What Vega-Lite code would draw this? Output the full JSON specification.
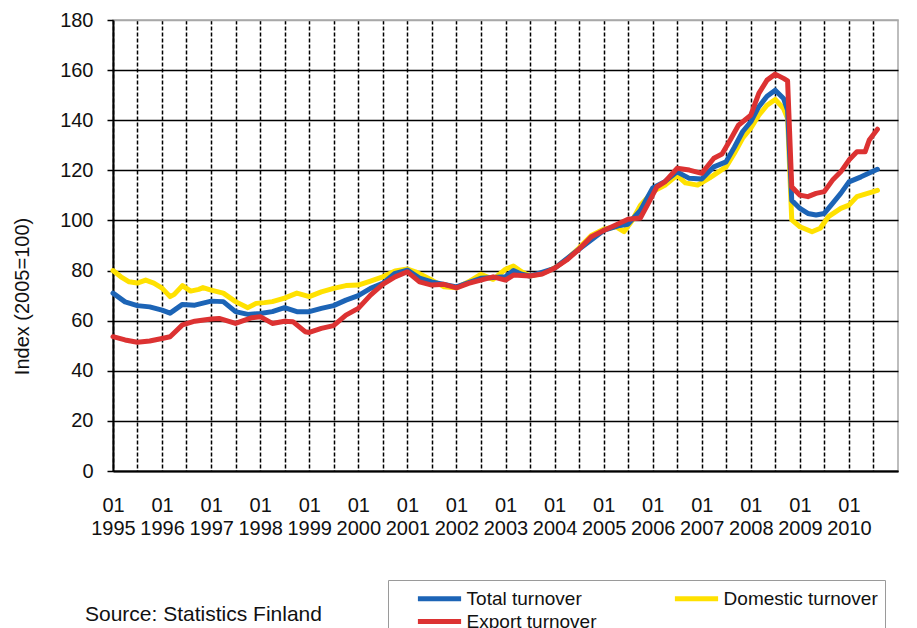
{
  "$schema": "https://vega.github.io/schema/vega-lite/v6.json",
  "width": 785,
  "height": 451,
  "autosize": "none",
  "padding": {"left": 113, "top": 20, "right": 19, "bottom": 157},
  "background": "white",
  "title": {"text": "Source: Statistics Finland", "orient": "bottom", "anchor": "start", "fontSize": 21, "fontWeight": "normal", "font": "Liberation Sans", "color": "#111", "baseline": "middle", "dx": 73, "dy": -25, "offset": 0},
  "datasets": {
    "d": [
      {"s": "Domestic turnover", "d": "1995-01", "v": 80},
      {"s": "Domestic turnover", "d": "1995-03", "v": 77.5},
      {"s": "Domestic turnover", "d": "1995-05", "v": 75.5},
      {"s": "Domestic turnover", "d": "1995-07", "v": 75},
      {"s": "Domestic turnover", "d": "1995-09", "v": 76.2},
      {"s": "Domestic turnover", "d": "1995-11", "v": 75},
      {"s": "Domestic turnover", "d": "1996-01", "v": 73},
      {"s": "Domestic turnover", "d": "1996-03", "v": 69.6},
      {"s": "Domestic turnover", "d": "1996-04", "v": 70.5},
      {"s": "Domestic turnover", "d": "1996-06", "v": 74},
      {"s": "Domestic turnover", "d": "1996-08", "v": 71.8},
      {"s": "Domestic turnover", "d": "1996-10", "v": 72.5},
      {"s": "Domestic turnover", "d": "1996-11", "v": 73.2},
      {"s": "Domestic turnover", "d": "1997-01", "v": 72.2},
      {"s": "Domestic turnover", "d": "1997-04", "v": 71},
      {"s": "Domestic turnover", "d": "1997-07", "v": 67.6},
      {"s": "Domestic turnover", "d": "1997-10", "v": 65.2},
      {"s": "Domestic turnover", "d": "1997-12", "v": 66.9},
      {"s": "Domestic turnover", "d": "1998-02", "v": 67.2},
      {"s": "Domestic turnover", "d": "1998-04", "v": 67.6},
      {"s": "Domestic turnover", "d": "1998-07", "v": 69},
      {"s": "Domestic turnover", "d": "1998-10", "v": 71},
      {"s": "Domestic turnover", "d": "1999-01", "v": 69.6},
      {"s": "Domestic turnover", "d": "1999-04", "v": 71.5},
      {"s": "Domestic turnover", "d": "1999-07", "v": 72.9},
      {"s": "Domestic turnover", "d": "1999-10", "v": 74},
      {"s": "Domestic turnover", "d": "2000-01", "v": 74.2},
      {"s": "Domestic turnover", "d": "2000-04", "v": 75.8},
      {"s": "Domestic turnover", "d": "2000-07", "v": 77.5},
      {"s": "Domestic turnover", "d": "2000-10", "v": 79.8},
      {"s": "Domestic turnover", "d": "2001-01", "v": 80.6},
      {"s": "Domestic turnover", "d": "2001-03", "v": 79.5},
      {"s": "Domestic turnover", "d": "2001-07", "v": 76.2},
      {"s": "Domestic turnover", "d": "2001-10", "v": 73.5},
      {"s": "Domestic turnover", "d": "2002-01", "v": 73.1},
      {"s": "Domestic turnover", "d": "2002-04", "v": 75.5},
      {"s": "Domestic turnover", "d": "2002-07", "v": 78.5},
      {"s": "Domestic turnover", "d": "2002-10", "v": 76.5},
      {"s": "Domestic turnover", "d": "2003-01", "v": 80.5},
      {"s": "Domestic turnover", "d": "2003-03", "v": 81.8},
      {"s": "Domestic turnover", "d": "2003-05", "v": 79.5},
      {"s": "Domestic turnover", "d": "2003-07", "v": 77.8},
      {"s": "Domestic turnover", "d": "2003-10", "v": 78.8},
      {"s": "Domestic turnover", "d": "2004-01", "v": 81},
      {"s": "Domestic turnover", "d": "2004-04", "v": 84.5},
      {"s": "Domestic turnover", "d": "2004-07", "v": 89},
      {"s": "Domestic turnover", "d": "2004-10", "v": 94},
      {"s": "Domestic turnover", "d": "2005-01", "v": 96.5},
      {"s": "Domestic turnover", "d": "2005-04", "v": 97.5},
      {"s": "Domestic turnover", "d": "2005-06", "v": 95.5},
      {"s": "Domestic turnover", "d": "2005-08", "v": 100},
      {"s": "Domestic turnover", "d": "2005-10", "v": 106},
      {"s": "Domestic turnover", "d": "2006-01", "v": 111.5},
      {"s": "Domestic turnover", "d": "2006-04", "v": 114},
      {"s": "Domestic turnover", "d": "2006-07", "v": 118},
      {"s": "Domestic turnover", "d": "2006-09", "v": 115},
      {"s": "Domestic turnover", "d": "2006-12", "v": 114.1},
      {"s": "Domestic turnover", "d": "2007-03", "v": 117},
      {"s": "Domestic turnover", "d": "2007-07", "v": 121.4},
      {"s": "Domestic turnover", "d": "2007-09", "v": 126.8},
      {"s": "Domestic turnover", "d": "2007-11", "v": 132.8},
      {"s": "Domestic turnover", "d": "2008-01", "v": 136.8},
      {"s": "Domestic turnover", "d": "2008-03", "v": 142},
      {"s": "Domestic turnover", "d": "2008-05", "v": 146},
      {"s": "Domestic turnover", "d": "2008-07", "v": 148.3},
      {"s": "Domestic turnover", "d": "2008-09", "v": 144.7},
      {"s": "Domestic turnover", "d": "2008-10", "v": 140.7},
      {"s": "Domestic turnover", "d": "2008-11", "v": 100.2},
      {"s": "Domestic turnover", "d": "2009-01", "v": 97.5},
      {"s": "Domestic turnover", "d": "2009-04", "v": 95.5},
      {"s": "Domestic turnover", "d": "2009-06", "v": 96.9},
      {"s": "Domestic turnover", "d": "2009-08", "v": 101.5},
      {"s": "Domestic turnover", "d": "2009-11", "v": 104.8},
      {"s": "Domestic turnover", "d": "2010-01", "v": 106.1},
      {"s": "Domestic turnover", "d": "2010-03", "v": 109.5},
      {"s": "Domestic turnover", "d": "2010-08", "v": 112},

      {"s": "Total turnover", "d": "1995-01", "v": 71},
      {"s": "Total turnover", "d": "1995-04", "v": 67.5},
      {"s": "Total turnover", "d": "1995-07", "v": 66},
      {"s": "Total turnover", "d": "1995-10", "v": 65.5},
      {"s": "Total turnover", "d": "1996-01", "v": 64.2},
      {"s": "Total turnover", "d": "1996-03", "v": 63},
      {"s": "Total turnover", "d": "1996-06", "v": 66.5},
      {"s": "Total turnover", "d": "1996-09", "v": 66.2},
      {"s": "Total turnover", "d": "1997-01", "v": 67.8},
      {"s": "Total turnover", "d": "1997-04", "v": 67.6},
      {"s": "Total turnover", "d": "1997-07", "v": 63.6},
      {"s": "Total turnover", "d": "1997-10", "v": 62.5},
      {"s": "Total turnover", "d": "1998-01", "v": 62.9},
      {"s": "Total turnover", "d": "1998-04", "v": 63.6},
      {"s": "Total turnover", "d": "1998-07", "v": 65.2},
      {"s": "Total turnover", "d": "1998-10", "v": 63.6},
      {"s": "Total turnover", "d": "1999-01", "v": 63.6},
      {"s": "Total turnover", "d": "1999-04", "v": 64.9},
      {"s": "Total turnover", "d": "1999-07", "v": 66},
      {"s": "Total turnover", "d": "1999-10", "v": 68.2},
      {"s": "Total turnover", "d": "2000-01", "v": 70},
      {"s": "Total turnover", "d": "2000-04", "v": 72.9},
      {"s": "Total turnover", "d": "2000-07", "v": 74.9},
      {"s": "Total turnover", "d": "2000-10", "v": 78.9},
      {"s": "Total turnover", "d": "2001-01", "v": 80.2},
      {"s": "Total turnover", "d": "2001-04", "v": 77},
      {"s": "Total turnover", "d": "2001-07", "v": 75.5},
      {"s": "Total turnover", "d": "2002-01", "v": 73.5},
      {"s": "Total turnover", "d": "2002-07", "v": 76.9},
      {"s": "Total turnover", "d": "2003-01", "v": 77.5},
      {"s": "Total turnover", "d": "2003-03", "v": 80},
      {"s": "Total turnover", "d": "2003-05", "v": 78.5},
      {"s": "Total turnover", "d": "2003-07", "v": 77.8},
      {"s": "Total turnover", "d": "2004-01", "v": 80.9},
      {"s": "Total turnover", "d": "2004-07", "v": 88.5},
      {"s": "Total turnover", "d": "2005-01", "v": 96},
      {"s": "Total turnover", "d": "2005-05", "v": 98},
      {"s": "Total turnover", "d": "2005-07", "v": 98.5},
      {"s": "Total turnover", "d": "2005-10", "v": 104},
      {"s": "Total turnover", "d": "2006-01", "v": 113},
      {"s": "Total turnover", "d": "2006-04", "v": 115.5},
      {"s": "Total turnover", "d": "2006-07", "v": 119.4},
      {"s": "Total turnover", "d": "2006-10", "v": 116.8},
      {"s": "Total turnover", "d": "2007-01", "v": 116.5},
      {"s": "Total turnover", "d": "2007-04", "v": 121.4},
      {"s": "Total turnover", "d": "2007-07", "v": 123.4},
      {"s": "Total turnover", "d": "2007-09", "v": 129.2},
      {"s": "Total turnover", "d": "2007-11", "v": 135.4},
      {"s": "Total turnover", "d": "2008-01", "v": 139.4},
      {"s": "Total turnover", "d": "2008-03", "v": 145.4},
      {"s": "Total turnover", "d": "2008-05", "v": 149.6},
      {"s": "Total turnover", "d": "2008-07", "v": 152},
      {"s": "Total turnover", "d": "2008-09", "v": 148.7},
      {"s": "Total turnover", "d": "2008-10", "v": 144},
      {"s": "Total turnover", "d": "2008-11", "v": 108},
      {"s": "Total turnover", "d": "2009-01", "v": 104.8},
      {"s": "Total turnover", "d": "2009-03", "v": 102.8},
      {"s": "Total turnover", "d": "2009-05", "v": 102.2},
      {"s": "Total turnover", "d": "2009-07", "v": 102.8},
      {"s": "Total turnover", "d": "2009-09", "v": 106.8},
      {"s": "Total turnover", "d": "2009-11", "v": 110.8},
      {"s": "Total turnover", "d": "2010-01", "v": 115.4},
      {"s": "Total turnover", "d": "2010-04", "v": 117.4},
      {"s": "Total turnover", "d": "2010-08", "v": 120.4},

      {"s": "Export turnover", "d": "1995-01", "v": 53.6},
      {"s": "Export turnover", "d": "1995-04", "v": 52.3},
      {"s": "Export turnover", "d": "1995-07", "v": 51.4},
      {"s": "Export turnover", "d": "1995-10", "v": 51.9},
      {"s": "Export turnover", "d": "1996-01", "v": 52.9},
      {"s": "Export turnover", "d": "1996-03", "v": 53.6},
      {"s": "Export turnover", "d": "1996-06", "v": 58.3},
      {"s": "Export turnover", "d": "1996-09", "v": 59.8},
      {"s": "Export turnover", "d": "1997-01", "v": 60.7},
      {"s": "Export turnover", "d": "1997-03", "v": 60.9},
      {"s": "Export turnover", "d": "1997-07", "v": 58.9},
      {"s": "Export turnover", "d": "1997-11", "v": 61.2},
      {"s": "Export turnover", "d": "1998-01", "v": 61.6},
      {"s": "Export turnover", "d": "1998-04", "v": 58.9},
      {"s": "Export turnover", "d": "1998-07", "v": 59.8},
      {"s": "Export turnover", "d": "1998-09", "v": 59.6},
      {"s": "Export turnover", "d": "1998-12", "v": 55.6},
      {"s": "Export turnover", "d": "1999-01", "v": 55.3},
      {"s": "Export turnover", "d": "1999-04", "v": 56.9},
      {"s": "Export turnover", "d": "1999-07", "v": 58},
      {"s": "Export turnover", "d": "1999-10", "v": 62.2},
      {"s": "Export turnover", "d": "2000-01", "v": 64.9},
      {"s": "Export turnover", "d": "2000-04", "v": 70.2},
      {"s": "Export turnover", "d": "2000-07", "v": 74.5},
      {"s": "Export turnover", "d": "2000-10", "v": 77.5},
      {"s": "Export turnover", "d": "2001-01", "v": 79.5},
      {"s": "Export turnover", "d": "2001-04", "v": 75.5},
      {"s": "Export turnover", "d": "2001-07", "v": 74.2},
      {"s": "Export turnover", "d": "2001-10", "v": 74.5},
      {"s": "Export turnover", "d": "2002-01", "v": 73.1},
      {"s": "Export turnover", "d": "2002-04", "v": 74.9},
      {"s": "Export turnover", "d": "2002-07", "v": 76.2},
      {"s": "Export turnover", "d": "2002-10", "v": 77.5},
      {"s": "Export turnover", "d": "2003-01", "v": 76.2},
      {"s": "Export turnover", "d": "2003-03", "v": 78.2},
      {"s": "Export turnover", "d": "2003-07", "v": 77.8},
      {"s": "Export turnover", "d": "2003-10", "v": 78.6},
      {"s": "Export turnover", "d": "2004-01", "v": 80.9},
      {"s": "Export turnover", "d": "2004-04", "v": 84.2},
      {"s": "Export turnover", "d": "2004-07", "v": 88.5},
      {"s": "Export turnover", "d": "2004-10", "v": 93.5},
      {"s": "Export turnover", "d": "2005-01", "v": 96},
      {"s": "Export turnover", "d": "2005-04", "v": 98.2},
      {"s": "Export turnover", "d": "2005-07", "v": 100.5},
      {"s": "Export turnover", "d": "2005-10", "v": 101},
      {"s": "Export turnover", "d": "2005-12", "v": 107},
      {"s": "Export turnover", "d": "2006-02", "v": 113.4},
      {"s": "Export turnover", "d": "2006-04", "v": 115.4},
      {"s": "Export turnover", "d": "2006-07", "v": 120.8},
      {"s": "Export turnover", "d": "2006-10", "v": 120.1},
      {"s": "Export turnover", "d": "2007-01", "v": 118.8},
      {"s": "Export turnover", "d": "2007-04", "v": 124.8},
      {"s": "Export turnover", "d": "2007-06", "v": 126.5},
      {"s": "Export turnover", "d": "2007-08", "v": 132.1},
      {"s": "Export turnover", "d": "2007-10", "v": 138},
      {"s": "Export turnover", "d": "2008-01", "v": 142},
      {"s": "Export turnover", "d": "2008-03", "v": 150.7},
      {"s": "Export turnover", "d": "2008-05", "v": 156},
      {"s": "Export turnover", "d": "2008-07", "v": 158.4},
      {"s": "Export turnover", "d": "2008-09", "v": 156.7},
      {"s": "Export turnover", "d": "2008-10", "v": 155.7},
      {"s": "Export turnover", "d": "2008-11", "v": 113.4},
      {"s": "Export turnover", "d": "2009-01", "v": 110.1},
      {"s": "Export turnover", "d": "2009-03", "v": 109.5},
      {"s": "Export turnover", "d": "2009-05", "v": 110.8},
      {"s": "Export turnover", "d": "2009-07", "v": 111.5},
      {"s": "Export turnover", "d": "2009-09", "v": 116.1},
      {"s": "Export turnover", "d": "2009-11", "v": 119.4},
      {"s": "Export turnover", "d": "2010-01", "v": 124.1},
      {"s": "Export turnover", "d": "2010-03", "v": 127.4},
      {"s": "Export turnover", "d": "2010-05", "v": 127.4},
      {"s": "Export turnover", "d": "2010-06", "v": 132.1},
      {"s": "Export turnover", "d": "2010-08", "v": 136.4}
    ]
  },
  "data": {"name": "d"},
  "encoding": {
    "x": {
      "field": "d", "type": "temporal",
      "scale": {"type": "utc", "domain": [{"year": 1995, "month": 1, "date": 1, "utc": true}, {"year": 2011, "month": 1, "date": 1, "utc": true}], "nice": false},
      "axis": {
        "title": null,
        "tickCount": {"interval": "month", "step": 6},
        "labelExpr": "(utcmonth(datum.value) == 0 && utcyear(datum.value) < 2011) ? [utcFormat(datum.value, '%m'), utcFormat(datum.value, '%Y')] : ''",
        "labelFontSize": 20,
        "labelLineHeight": 23,
        "labelBaseline": "top",
        "labelPadding": 24,
        "labelAlign": "center",
        "labelOverlap": false,
        "labelBound": false,
        "labelFlush": false,
        "labelColor": "#111",
        "ticks": false,
        "domain": true,
        "domainColor": "#000",
        "domainWidth": 2,
        "grid": true,
        "gridColor": "#000",
        "gridDash": [4, 2],
        "gridWidth": 1.5,
        "gridOpacity": {"condition": {"test": "utcyear(datum.value) >= 2011", "value": 0}, "value": 1}
      }
    },
    "y": {
      "field": "v", "type": "quantitative",
      "scale": {"domain": [0, 180], "nice": false, "zero": true},
      "axis": {
        "title": "Index (2005=100)",
        "titleFontSize": 20,
        "titleFontWeight": "normal",
        "titleColor": "#111",
        "titleX": -91,
        "titleY": 276,
        "titleAlign": "center",
        "titleBaseline": "middle",
        "titleAngle": 270,
        "values": [0, 20, 40, 60, 80, 100, 120, 140, 160, 180],
        "labelFontSize": 20,
        "labelPadding": 14,
        "labelColor": "#111",
        "tickSize": 6,
        "tickColor": "#000",
        "tickWidth": 1.5,
        "domain": true,
        "domainColor": "#000",
        "domainWidth": 2,
        "grid": true,
        "gridColor": {"condition": {"test": "datum.value >= 180", "value": "#a8a8a8"}, "value": "#000"},
        "gridWidth": 1.5
      }
    },
    "color": {
      "field": "s", "type": "nominal",
      "scale": {"domain": ["Total turnover", "Domestic turnover", "Export turnover"], "range": ["#1c64b6", "#ffe100", "#dc3232"]},
      "legend": {
        "orient": "none",
        "legendX": 275,
        "legendY": 560,
        "direction": "horizontal",
        "columns": 2,
        "title": " ",
        "titleOrient": "left",
        "titlePadding": 33,
        "titleFontSize": 10,
        "symbolType": "M-2.4,0H2.4",
        "symbolSize": 324,
        "symbolStrokeWidth": 5,
        "labelFontSize": 19,
        "labelColor": "#111",
        "labelOffset": 15.6,
        "labelLimit": 300,
        "rowPadding": 1,
        "columnPadding": 67,
        "padding": 7,
        "strokeColor": "#9a9a9a"
      }
    }
  },
  "layer": [
    {"transform": [{"filter": "datum.s == 'Domestic turnover'"}], "mark": {"type": "line", "strokeWidth": 5, "strokeJoin": "round", "strokeCap": "round"}},
    {"transform": [{"filter": "datum.s == 'Total turnover'"}], "mark": {"type": "line", "strokeWidth": 5, "strokeJoin": "round", "strokeCap": "round"}},
    {"transform": [{"filter": "datum.s == 'Export turnover'"}], "mark": {"type": "line", "strokeWidth": 5, "strokeJoin": "round", "strokeCap": "round"}}
  ],
  "config": {
    "font": "Liberation Sans",
    "view": {"stroke": "#a8a8a8", "strokeWidth": 1.5}
  }
}
